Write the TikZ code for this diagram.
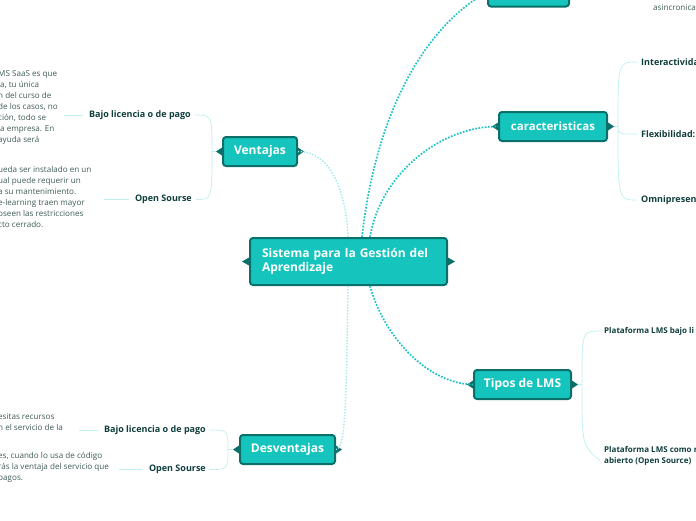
\documentclass[tikz,border=0pt]{standalone}
\usepackage{fontspec}
\setmainfont{Open Sans}
\usepackage{tikz}
\usetikzlibrary{positioning, calc}

\definecolor{tealfill}{HTML}{15C5BD}
\definecolor{tealline}{HTML}{0B6F6A}
\definecolor{dotdark}{HTML}{1EC2C4}
\definecolor{dotpale}{HTML}{A9E9EA}
\definecolor{leafln}{HTML}{BFEFF0}
\definecolor{leaftxt}{HTML}{0F3E3C}
\definecolor{bodytxt}{HTML}{3E5957}

\begin{document}
\begin{tikzpicture}[x=1pt,y=-1pt,
    topic/.style={draw=tealline,line width=2pt,fill=tealfill,rounded corners=3pt,text=white,
        font=\bfseries\fontsize{12}{14}\selectfont,inner sep=0pt,minimum height=29pt},
    leaf/.style={text=leaftxt,font=\bfseries\fontsize{9}{11}\selectfont,inner sep=0pt,align=left},
    smallleaf/.style={leaf,font=\bfseries\fontsize{8}{11}\selectfont},
    body/.style={text=bodytxt,font=\fontsize{8.1}{11}\selectfont,inner sep=0pt,align=left,anchor=north west},
    maindark/.style={dotdark,line width=1.7pt,dash pattern=on 1.7pt off 1.5pt},
    mainpale/.style={dotpale,line width=1.5pt,dash pattern=on 1.5pt off 1.5pt},
    branch/.style={leafln,line width=0.7pt}]
    \useasboundingbox (0,0) rectangle (696,520);
    \clip (0,0) rectangle (696,520);

    % main topics
    \node[topic,minimum width=197pt,minimum height=47pt,text width=173pt,align=left] (sgda) at (348.5,261.5)
        {Sistema para la Gesti\'on del\\Aprendizaje};
    \node[topic,minimum width=74pt] (vent) at (260,151.5) {Ventajas};
    \node[topic,minimum width=108pt,font=\bfseries\fontsize{11.5}{14}\selectfont] (carac) at (553,126.5) {caracteristicas};
    \node[topic,minimum width=97pt] (tipos) at (522.5,384.5) {Tipos de LMS};
    \node[topic,minimum width=95pt] (desv) at (287.5,449.5) {Desventajas};
    \node[topic,minimum width=81pt] (modal) at (528.5,-8) {};

    % little points on the sides
    \foreach \n/\w in {sgda/7,vent/6,carac/6,tipos/6,desv/6,modal/6} {
        \fill[tealline] ($(\n.west)+(0,-4)$) -- ++(-\w,4) -- ++(\w,4) -- cycle;
        \fill[tealline] ($(\n.east)+(0,-4)$) -- ++(\w,4) -- ++(-\w,4) -- cycle;
    }

    % sub topics
    \node[leaf,anchor=east] (vlic) at (191,115) {Bajo licencia o de pago};
    \node[leaf,anchor=east] (vos) at (192,199.5) {Open Sourse};
    \node[leaf,anchor=east] (dlic) at (206,430) {Bajo licencia o de pago};
    \node[leaf,anchor=east] (dos) at (206,469.5) {Open Sourse};
    \node[leaf,anchor=west] (inter) at (641,62) {Interactivida};
    \node[leaf,anchor=west] (flex) at (641,134) {Flexibilidad:};
    \node[leaf,anchor=west] (omni) at (641,200) {Omnipresen};
    \node[smallleaf,anchor=west] (plic) at (604,331) {Plataforma LMS bajo li};
    \node[smallleaf,anchor=west] (pos) at (604,455.5) {Plataforma LMS como m\\abierto (Open Source)};
    \node[body,anchor=west] (asin) at (653,8) {asincronica};

    % texts
    \node[body] (tvlic) at (-2,70.5) {MS SaaS es que\\ia, tu \'unica\\n del curso de\\de los casos, no\\ci\'on, todo se\\la empresa. En\\ ayuda ser\'a};
    \node[body] (tvos) at (-2,166.5) {ueda ser instalado en un\\ual puede requerir un\\a su mantenimiento.\\e-learning traen mayor\\oseen las restricciones\\cto cerrado.};
    \node[body] (tdlic) at (-2,413.5) {esitas recursos\\n el servicio de la};
    \node[body] (tdos) at (-2,452.5) {es, cuando lo usa de c\'odigo\\r\'as la ventaja del servicio que\\pagos.};

    % main connectors
    \draw[maindark] (362,237) .. controls (375,120) and (420,30) .. (modal.west);
    \draw[maindark] (370,237) .. controls (380,175) and (440,126) .. (carac.west);
    \draw[mainpale] (348,237) .. controls (346,190) and (330,151) .. (vent.east);
    \draw[maindark] (370,286) .. controls (385,340) and (430,384) .. (tipos.west);
    \draw[mainpale] (348,286) .. controls (346,400) and (346,449) .. (desv.east);

    % branches
    \draw[branch] ($(vent.west)+(-6,0)$) -- ++(-4,0) coordinate (vf)
        (vf) .. controls (vf |- vlic) .. ([xshift=4]vlic.east)
        (vf) .. controls (vf |- vos) .. ([xshift=4]vos.east);
    \draw[branch] ($(desv.west)+(-6,0)$) -- ++(-5,0) coordinate (df)
        (df) .. controls (df |- dlic) .. ([xshift=3]dlic.east)
        (df) .. controls (df |- dos) .. ([xshift=3]dos.east);
    \draw[branch] ($(carac.east)+(6,0)$) -- ++(4,0) coordinate (cf)
        (cf) .. controls (cf |- inter) .. ([xshift=-4]inter.west)
        (cf) .. controls (cf |- flex) .. ([xshift=-4]flex.west)
        (cf) .. controls (cf |- omni) .. ([xshift=-4]omni.west);
    \draw[branch] ($(tipos.east)+(6,0)$) -- ++(4,0) coordinate (tf)
        (tf) .. controls (tf |- plic) .. ([xshift=-4]plic.west)
        (tf) .. controls (tf |- pos.north) .. ([xshift=-4,yshift=-5]pos.west);

    % leaf to text
    \draw[branch] ([xshift=-6]vlic.west) -- ([xshift=6]tvlic.east |- vlic.west);
    \draw[branch] ([xshift=-6]vos.west) -- ([xshift=12]tvos.east |- vos.west);
    \draw[branch] ([xshift=-6]dlic.west) -- ([xshift=16]tdlic.east |- dlic.west);
    \draw[branch] ([xshift=-6]dos.west) -- ([xshift=10]tdos.east |- dos.west);
\end{tikzpicture}
\end{document}
